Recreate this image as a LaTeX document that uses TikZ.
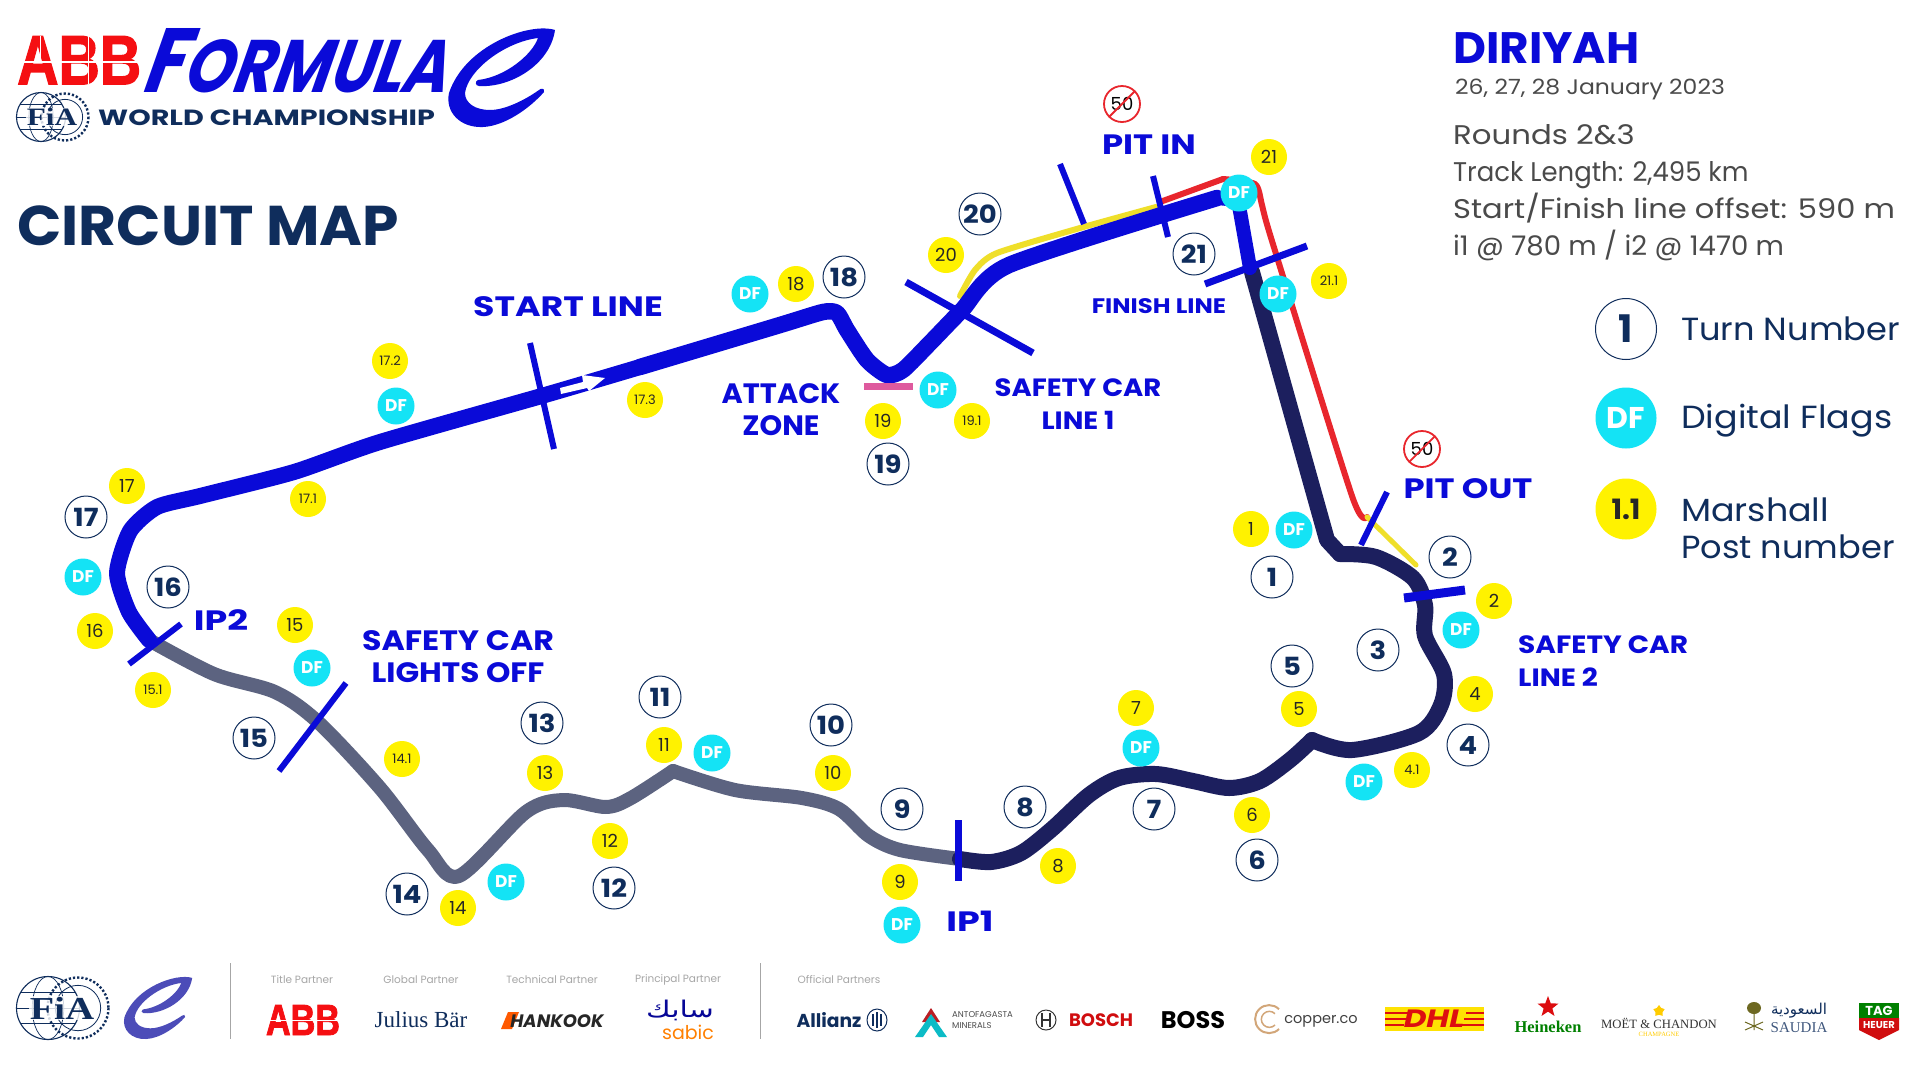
\documentclass[tikz,border=0pt]{standalone}
\usepackage{fontspec}
\usepackage{graphicx}
\usetikzlibrary{shapes.geometric}
\setmainfont{Poppins}
\newfontfamily\serifrm{Liberation Serif}
\newfontfamily\arabicfont[Script=Arabic]{DejaVu Sans}
\newfontfamily\logosans{Liberation Sans}
\newfontfamily\abbfont[UprightFont={* Bold},FakeBold=2]{Liberation Sans}
\TeXXeTstate=1
\definecolor{fenavy}{HTML}{0F2D5C}
\definecolor{trnavy}{HTML}{1C1F5E}
\definecolor{feblue}{HTML}{0A0AD8}
\definecolor{trgray}{HTML}{5C6380}
\definecolor{cyanflag}{HTML}{14E3F5}
\definecolor{marshy}{HTML}{FFF200}
\definecolor{pitred}{HTML}{E8262D}
\definecolor{pityel}{HTML}{EFDF2A}
\definecolor{attackp}{HTML}{DE5A9E}
\definecolor{abbred}{HTML}{F50F12}
\definecolor{infogray}{HTML}{4A4A4A}
\definecolor{partnergray}{HTML}{A6A6A6}
\newcommand\fs[1]{\fontsize{#1}{#1}\selectfont}
\newcommand\hs[2]{\scalebox{#1}[1]{#2}}
\tikzset{
  x=1pt,y=-1pt,
  trackline/.style={line width=#1,line cap=round,line join=round},
  crossbar/.style={draw=feblue,line width=#1,line cap=butt},
  turnc/.style={circle,draw=fenavy,line width=1pt,fill=white,minimum size=42pt,inner sep=0pt,text=fenavy,font=\fs{25}\bfseries},
  dflag/.style={circle,fill=cyanflag,minimum size=37pt,inner sep=0pt,text=white,font=\fs{17}\bfseries},
  marsh/.style={circle,fill=marshy,minimum size=36pt,inner sep=0pt,text=black!85,font=\fs{18}},
  marshs/.style={marsh,font=\fs{13}},
  lab/.style={text=feblue,font=\fs{28}\bfseries,align=center,inner sep=0pt},
  info/.style={text=infogray,font=\fs{27},anchor=west,inner sep=0pt},
  legendtext/.style={text=fenavy,font=\fs{32},anchor=west,inner sep=0pt},
  partnerlab/.style={text=partnergray,font=\fs{10.5},inner sep=0pt},
  logotext/.style={inner sep=0pt},
  speedsign/.style={circle,draw=pitred,line width=1.8pt,fill=white,minimum size=36pt,inner sep=0pt,text=black,font=\fs{18}},
  sepline/.style={draw=black!35,line width=.8pt},
}
\newcommand\fialogo[5]{% cx cy r sep fontsize
 \begin{scope}[shift={(#1,#2)}]
  \draw[fenavy,line width=1.1pt] (-#4,0) circle[radius=#3];
  \draw[fenavy,line width=.7pt] (-#4,0) ellipse[x radius=#3*.5,y radius=#3];
  \draw[fenavy,line width=.7pt] (-#4-#3,0) -- (-#4+#3,0);
  \draw[fenavy,line width=.7pt] (-#4-#3*.85,-#3*.5) -- (-#4+#3*.85,-#3*.5);
  \draw[fenavy,line width=.7pt] (-#4-#3*.85,#3*.5) -- (-#4+#3*.85,#3*.5);
  \draw[fenavy,line width=2.4pt,dash pattern=on 2.2pt off 2pt] (#4,0) circle[radius=#3-1];
  \draw[fenavy,line width=.8pt] (#4,0) circle[radius=#3*.72];
  \node[fill=white,fill opacity=.8,text opacity=1,text=fenavy,inner sep=.5pt,font=\fs{#5}\serifrm\bfseries] (fia#1) at (-1,0) {\hs{1.25}{FiA}};
 \end{scope}}
\newcommand\eswoosh{(555,30) .. controls (530,22) and (465,45) .. (449,93) .. controls (445,112) and (460,128) .. (483,127) .. controls (505,126) and (530,108) .. (544,92) .. controls (545,88) and (541,88) .. (539,90) .. controls (525,100) and (505,110) .. (490,110) .. controls (475,110) and (465,103) .. (465,93) .. controls (468,70) and (505,42) .. (538,38) .. controls (532,55) and (505,77) .. (478,80) .. controls (475,81) and (475,86) .. (479,86) .. controls (510,88) and (550,65) .. (555,30) -- cycle}
\begin{document}
\begin{tikzpicture}
\useasboundingbox (0,0) rectangle (1920,1080);
\fill[white] (0,0) rectangle (1920,1080);
% header logo
\node[logotext,anchor=north west,text=abbred] (abb) at (17,36) {\resizebox{124pt}{48pt}{\abbfont ABB}};
\draw[white,line width=1.2pt] (17,62) -- (141,62);
\draw[white,line width=1pt] (40,36) -- (40,62) (88,36) -- (88,84);
\node[logotext,text=feblue,xslant=.35,transform shape] (formula) at (303,61) {\resizebox{305pt}{64pt}{\bfseries{\fs{38}F}{\fs{31}ORMULA}}};
\fill[feblue] \eswoosh;
\fialogo{53}{117}{24.5}{12}{25}
\node[logotext,anchor=west,text=fenavy,font=\fs{22}\bfseries] (wc) at (98,118) {\hs{1.3}{WORLD CHAMPIONSHIP}};
\node[logotext,anchor=west,text=fenavy,font=\fs{56}\bfseries] (title) at (17,226) {\hs{1.04}{CIRCUIT MAP}};
% info
\node[logotext,anchor=west,text=feblue,font=\fs{44}\bfseries] (diriyah) at (1453,48) {\hs{1.03}{DIRIYAH}};
\node[logotext,anchor=west,text=infogray,font=\fs{21}] (dates) at (1455,89) {\hs{1.12}{26, 27, 28 January 2023}};
\node[info] (i1) at (1453,135) {\hs{1.14}{Rounds 2\&3}};
\node[info] (i2) at (1453,175) {\hs{.96}{Track Length: 2,495 km}};
\node[info] (i3) at (1453,208) {\hs{1.13}{Start/Finish line offset: 590 m}};
\node[info] (i4) at (1453,245) {\hs{1.02}{i1 @ 780 m / i2 @ 1470 m}};
% legend
\node[turnc,minimum size=61pt,font=\fs{38}\bfseries] (legt) at (1626,329) {1};
\node[dflag,minimum size=61pt,font=\fs{30}\bfseries] (legd) at (1626,418) {DF};
\node[marsh,minimum size=61pt,font=\fs{28}\bfseries] (legm) at (1626,509) {1.1};
\node[legendtext] (lt) at (1681,329) {\hs{1.05}{Turn Number}};
\node[legendtext] (ld) at (1681,421) {\hs{1.09}{Digital Flags}};
\node[legendtext] (lm1) at (1681,510) {\hs{1.09}{Marshall}};
\node[legendtext] (lm2) at (1681,547) {\hs{1.05}{Post number}};
% pit lane
\draw[pityel,trackline=6pt] plot[smooth,tension=.4] coordinates {(960,296) (975,270) (997,253) (1080,228) (1156,207)};
\draw[pitred,trackline=6pt] (1160,202) -- (1223,179);
\draw[pitred,trackline=6pt] plot[smooth,tension=.4] coordinates {(1223,179) (1255,184) (1262,205) (1272,241) (1352,496) (1367,517)};
\draw[pityel,trackline=5pt] (1367,517) -- (1416,565);
% track
\draw[trgray,trackline=14pt] plot[smooth,tension=.5] coordinates {(960,859) (900,850) (869,836) (839,809) (802,798) (735,790) (673,771)};
\draw[trgray,trackline=14pt] plot[smooth,tension=.5] coordinates {(673,771) (631,798) (606,807) (563,800) (526,812) (459,876) (428,850) (380,788) (318,722) (275,692) (214,674) (149,640)};
\draw[trnavy,trackline=16pt] plot[smooth,tension=.5] coordinates {(960,859) (991,862) (1021,853) (1052,829) (1089,795) (1119,778) (1156,774) (1193,781) (1229,788) (1260,781) (1290,760) (1312,740)};
\draw[trnavy,trackline=16pt] plot[smooth,tension=.5] coordinates {(1312,740) (1352,750) (1419,733) (1441,705) (1444,674) (1425,636) (1425,605) (1413,578) (1376,557) (1340,554)};
\draw[trnavy,trackline=16pt] (1340,554) -- (1327,540) -- (1252,272);
\draw[feblue,trackline=16pt] plot[smooth,tension=.4] coordinates {(149,640) (129,612) (117,573) (130,531) (157,507) (200,496) (294,472) (380,442) (545,395) (640,367)};
\draw[feblue,trackline=16.5pt] plot[smooth,tension=.4] coordinates {(640,367) (780,325) (823,312) (837,313) (847,330) (867,360) (887,375) (903,370) (930,343) (962,310) (1009,265) (1217,198)};
\draw[feblue,trackline=14pt] (1217,198) -- (1238,200) -- (1250,268);
% start arrow
\fill[white] (560,388) -- (583,382) -- (582,375) -- (605,378) -- (589,391) -- (587,388) -- (561,394) -- cycle;
% lines
\draw[crossbar=6pt] (530,343) -- (554,449);
\draw[crossbar=7pt] (906,282) -- (1033,353);
\draw[crossbar=6pt] (1060,164) -- (1084,224);
\draw[crossbar=6pt] (1153,176) -- (1168,237);
\draw[crossbar=7pt] (1205,284) -- (1307,246);
\draw[crossbar=6pt] (1387,492) -- (1361,545);
\draw[crossbar=9pt] (1404,598) -- (1465,590);
\draw[crossbar=6pt] (129,664) -- (181,624);
\draw[crossbar=6pt] (346,683) -- (279,771);
\draw[crossbar=7pt] (958,820) -- (958,881);
\draw[attackp,line width=7pt] (864,386) -- (913,386);
% labels
\node[lab] (lstart) at (568,307) {\hs{1.24}{START LINE}};
\node[lab] (latt1) at (781,394) {\hs{1.03}{ATTACK}};
\node[lab] (latt2) at (781,426) {\hs{1.03}{ZONE}};
\node[lab,font=\fs{25}\bfseries] (lsc1a) at (1078,388) {\hs{1.1}{SAFETY CAR}};
\node[lab,font=\fs{25}\bfseries] (lsc1b) at (1078,420) {\hs{1.1}{LINE 1}};
\node[lab] (lpitin) at (1149,145) {\hs{1.21}{PIT IN}};
\node[lab,font=\fs{21}\bfseries] (lfin) at (1159,306) {\hs{1.16}{FINISH LINE}};
\node[lab] (lpitout) at (1468,489) {\hs{1.21}{PIT OUT}};
\node[lab,font=\fs{25}\bfseries,anchor=west] (lsc2a) at (1518,645) {\hs{1.12}{SAFETY CAR}};
\node[lab,font=\fs{25}\bfseries,anchor=west] (lsc2b) at (1518,677) {\hs{1.12}{LINE 2}};
\node[lab] (lip2) at (221,620) {\hs{1.3}{IP2}};
\node[lab] (lsclo1) at (458,641) {\hs{1.13}{SAFETY CAR}};
\node[lab] (lsclo2) at (458,673) {\hs{1.11}{LIGHTS OFF}};
\node[lab] (lip1) at (970,921) {\hs{1.3}{IP1}};
% speed signs
\node[speedsign] (s50a) at (1122,104) {50};
\draw[pitred,line width=1.8pt] (s50a.north east) -- (s50a.south west);
\node[speedsign] (s50b) at (1422,449) {50};
\draw[pitred,line width=1.8pt] (s50b.north east) -- (s50b.south west);
% turn numbers
\foreach \n/\p/\t in {t1/{1272,577}/1,t2/{1450,557}/2,t3/{1378,650}/3,t4/{1468,745}/4,t5/{1292,666}/5,t6/{1257,860}/6,t7/{1154,809}/7,t8/{1025,807}/8,t9/{902,809}/9,t10/{831,725}/10,t11/{660,697}/11,t12/{614,888}/12,t13/{542,723}/13,t14/{407,894}/14,t15/{254,738}/15,t16/{168,587}/16,t17/{86,517}/17,t18/{844,277}/18,t19/{888,464}/19,t20/{980,214}/20,t21/{1194,254}/21}
  \node[turnc] (\n) at (\p) {\hs{1.1}{\t}};
% marshal posts
\foreach \n/\p/\t in {m1/{1251,529}/1,m2/{1494,601}/2,m4/{1475,694}/4,m5/{1299,709}/5,m6/{1252,815}/6,m7/{1136,708}/7,m8/{1058,866}/8,m9/{900,882}/9,m10/{833,773}/10,m11/{664,745}/11,m12/{610,841}/12,m13/{545,773}/13,m14/{458,908}/14,m15/{295,625}/15,m16/{95,631}/16,m17/{127,486}/17,m18/{796,284}/18,m19/{883,421}/19,m20/{946,255}/20,m21/{1269,157}/21}
  \node[marsh] (\n) at (\p) {\t};
\foreach \n/\p/\t in {ma/{308,499}/17.1,mb/{390,361}/17.2,mc/{645,400}/17.3,md/{972,421}/19.1,me/{1329,281}/21.1,mf/{1412,770}/4.1,mg/{402,759}/14.1,mh/{153,690}/15.1}
  \node[marshs] (\n) at (\p) {\t};
% digital flags
\foreach \n/\p in {d1/{750,294},d2/{396,406},d3/{938,390},d4/{1239,193},d5/{1278,294},d6/{1294,530},d7/{1461,630},d8/{1364,782},d9/{1141,748},d10/{83,577},d11/{312,668},d12/{712,753},d13/{506,882},d14/{902,925}}
  \node[dflag] (\n) at (\p) {DF};
% footer
\fialogo{63}{1008}{31.5}{15}{32}
\begin{scope}[shift={(-163,959)},xscale=.64,yscale=.63]
 \fill[blue!60!black!70!white] \eswoosh;
\end{scope}
\draw[sepline] (230,963) -- (230,1039);
\draw[sepline] (760,963) -- (760,1039);
\node[partnerlab] (p1) at (302,980) {Title Partner};
\node[partnerlab] (p2) at (421,980) {Global Partner};
\node[partnerlab] (p3) at (552,980) {Technical Partner};
\node[partnerlab] (p4) at (678,980) {Principal Partner};
\node[partnerlab] (p5) at (839,980) {Official Partners};
\node[logotext,text=abbred] (fabb) at (303,1020) {\resizebox{74pt}{30pt}{\abbfont ABB}};
\draw[white,line width=.8pt] (266,1020) -- (340,1020);
\node[logotext,text=fenavy,font=\fs{23}\serifrm] (julius) at (421,1020) {Julius Bär};
\fill[orange!70!red] (501,1029) -- (508,1012) -- (519,1012) -- (512,1029) -- cycle;
\node[logotext,text=black!85,font=\fs{18}\bfseries\itshape] (hank) at (557,1021) {HANKOOK};
\node[logotext,text=feblue!70!black,font=\fs{23}\arabicfont] (sabar) at (680,1010) {\hs{1.3}{\beginR سابك\endR}};
\node[logotext,text=orange,font=\fs{19}] (sabic) at (688,1032) {sabic};
\node[logotext,text=fenavy,font=\fs{18.7}\bfseries] (allianz) at (829,1020) {Allianz};
\draw[fenavy,line width=1pt] (877,1020) circle[x radius=10,y radius=11];
\draw[fenavy,line width=1.6pt] (873,1014) -- (873,1026) (877,1012) -- (877,1028) (881,1014) -- (881,1026);
\fill[pitred!80!black] (931,1008) -- (940,1022) -- (922,1022) -- cycle;
\fill[cyanflag!60!teal] (915,1037) -- (931,1014) -- (947,1037) -- (939,1037) -- (931,1025) -- (923,1037) -- cycle;
\node[logotext,anchor=west,text=black!70,font=\fs{8.5},align=left] (anto) at (952,1020) {ANTOFAGASTA\\[2pt]MINERALS};
\draw[black!80,line width=1pt] (1046,1020) circle[radius=10];
\draw[black!80,line width=1.5pt] (1042,1013) -- (1042,1027) (1050,1013) -- (1050,1027) (1042,1020) -- (1050,1020);
\node[logotext,text=abbred!85!black,font=\fs{18}\bfseries] (bosch) at (1101,1020) {BOSCH};
\node[logotext,text=black,font=\fs{24}\bfseries] (boss) at (1193,1020) {BOSS};
\draw[brown!70!white,line width=2pt] (1279,1029) arc[start angle=45,end angle=315,radius=14];
\draw[brown!70!white,line width=1.5pt] (1275,1025) arc[start angle=45,end angle=315,radius=8];
\node[logotext,text=black!75,font=\fs{14.5}] (copper) at (1321,1021) {copper.co};
\fill[yellow!85!orange] (1385,1007) rectangle (1484,1031);
\draw[abbred!90!black,line width=1.5pt] (1385,1013) -- (1408,1013) (1385,1019) -- (1406,1019) (1385,1025) -- (1404,1025) (1484,1013) -- (1466,1013) (1484,1019) -- (1464,1019) (1484,1025) -- (1462,1025);
\node[logotext,text=abbred!90!black,font=\fs{25}\bfseries\itshape] (dhl) at (1434,1019) {\hs{1.25}{DHL}};
\node[star,star points=5,star point ratio=2.4,fill=abbred!90!black,minimum size=22pt,inner sep=0pt] (hstar) at (1548,1007) {};
\node[logotext,text=green!50!black,font=\fs{16.5}\serifrm\bfseries] (hein) at (1548,1027) {Heineken};
\node[star,star points=5,star point ratio=1.6,fill=orange!40!yellow,minimum size=12pt,inner sep=0pt] (moetc) at (1659,1011) {};
\node[logotext,text=black!80,font=\fs{12.7}\serifrm] (moet) at (1659,1023) {MOËT \& CHANDON};
\node[logotext,text=orange!40!yellow,font=\fs{6.5}\serifrm] (champ) at (1659,1034) {CHAMPAGNE};
\draw[olive!70!black,line width=1pt] (1754,1005) -- (1754,1030) (1745,1030) -- (1763,1022) (1763,1030) -- (1745,1022);
\fill[olive!70!black] (1754,1008) ellipse[x radius=7,y radius=6];
\node[logotext,text=fenavy,font=\fs{15}\arabicfont] (saudar) at (1799,1011) {\beginR السعودية\endR};
\node[logotext,text=fenavy!80,font=\fs{15}\serifrm] (saudia) at (1799,1028) {SAUDIA};
\fill[green!50!black] (1859,1003) -- (1899,1003) -- (1899,1018) -- (1859,1018) -- cycle;
\fill[abbred!85!black] (1859,1018) -- (1899,1018) -- (1899,1030) -- (1879,1040) -- (1859,1030) -- cycle;
\node[logotext,text=white,font=\fs{13}\bfseries] (tag) at (1879,1010.5) {TAG};
\node[logotext,text=white,font=\fs{10}\bfseries] (heuer) at (1879,1025) {HEUER};
\end{tikzpicture}
\end{document}
